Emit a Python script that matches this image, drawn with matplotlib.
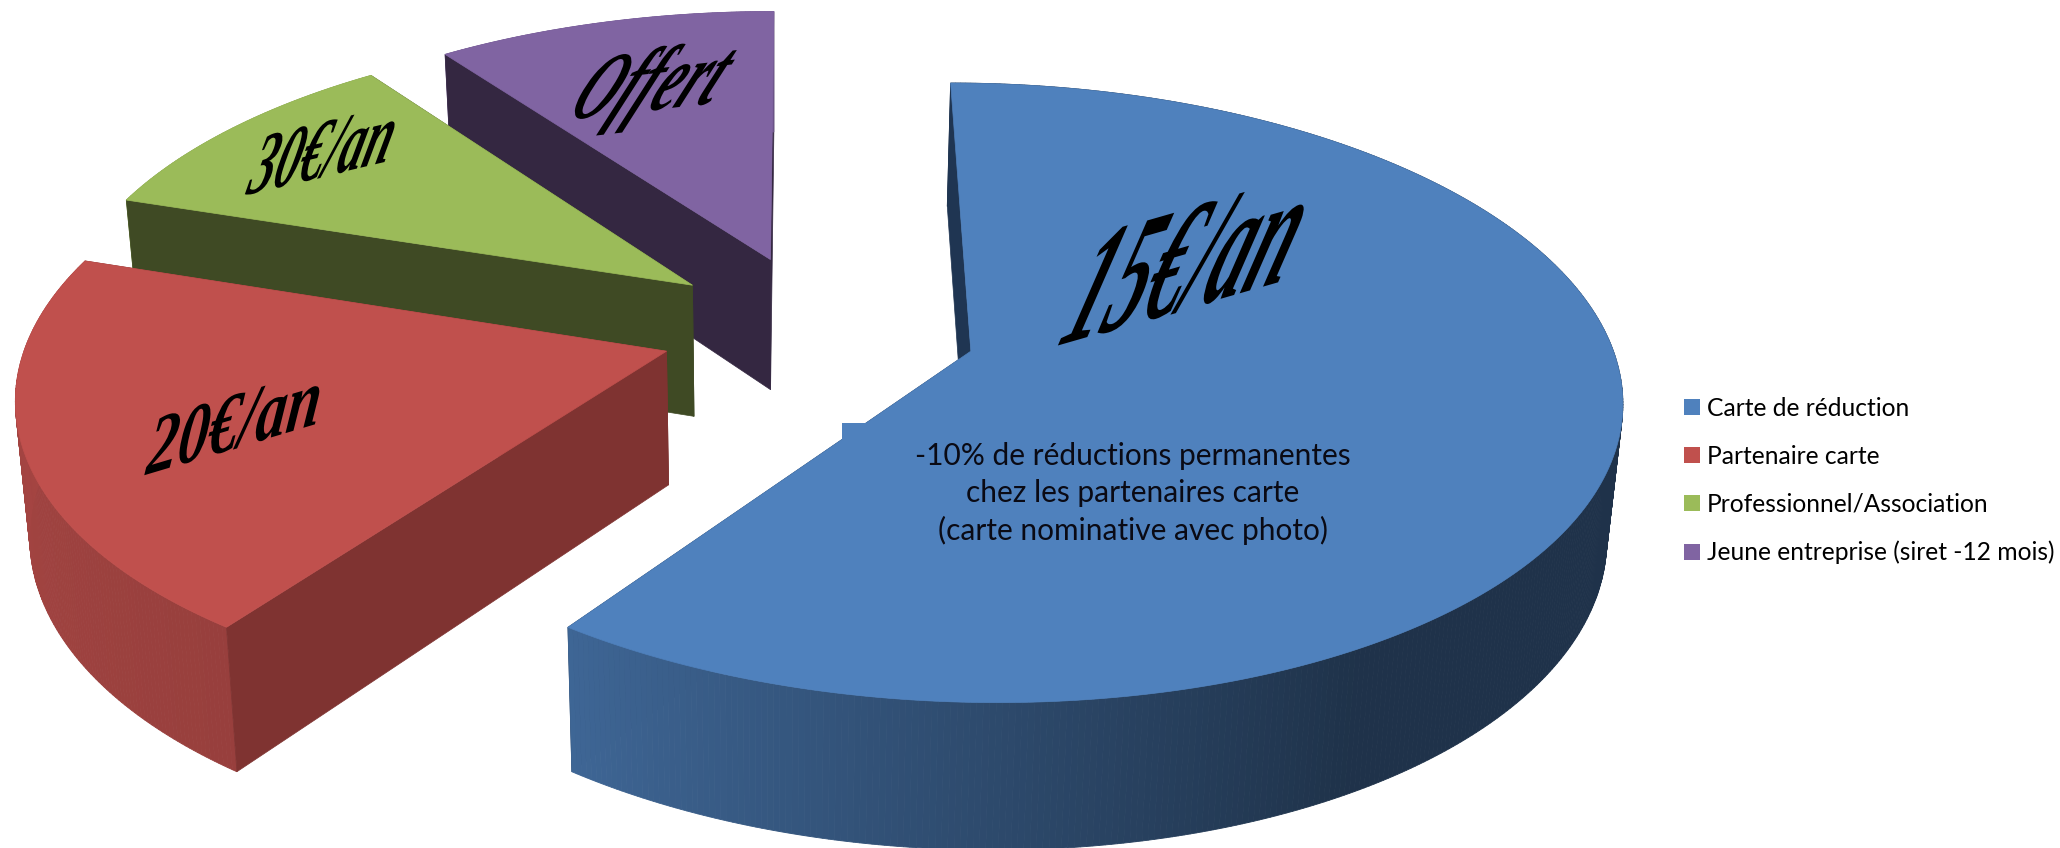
import numpy as np
from matplotlib import pyplot as plt
from matplotlib import patheffects
from matplotlib.colors import to_rgb
from matplotlib.patches import Patch, Polygon, Rectangle
from matplotlib.transforms import Affine2D

categories = ['Carte de réduction', 'Partenaire carte', 'Professionnel/Association',
              'Jeune entreprise (siret -12 mois)']
values = [60, 20, 10, 10]
prices = ['15€/an', '20€/an', '30€/an', 'Offert']
note = '-10% de réductions permanentes\nchez les partenaires carte\n(carte nominative avec photo)'

top_colors = ['#4f81bd', '#c0504d', '#9bbb59', '#8064a2']
wall_colors = ['#1f3552', '#7f3331', '#3f4a24', '#342741']

# camera of the 3d pie, in pixels of the picture
CX, CY = 818.5, 328
RX, RY = 636, 298
PERSP = 0.133
VX = 800
EXPLODE = 0.249
LEAN = 0.019
LEAN_X = 775
DEPTH = 120
DEPTH_GROW = 0.039


class Squeeze(patheffects.AbstractPathEffect):
    """narrow and lean the glyphs along the text direction"""
    def __init__(self, sx, shear):
        super().__init__()
        self.sx = sx
        self.shear = shear

    def draw_path(self, renderer, gc, tpath, affine, rgbFace=None):
        local = Affine2D().scale(self.sx, 1).skew_deg(self.shear, 0)
        renderer.draw_path(gc, tpath, local + affine, rgbFace)


def project(x, y):
    w = 1 + PERSP * y
    sx = VX + (CX - VX + RX * x) / w
    sy = CY - RY / PERSP + (RY / PERSP) / w
    return sx, sy


def drop(sx, sy):
    # near points get a taller wall than far ones
    return sx + LEAN * (LEAN_X - sx), sy + DEPTH + DEPTH_GROW * sy


def rim_shade(angle):
    return np.interp(angle, [0, 150, 216, 270, 360], [0.39, 0.39, 0.79, 0.86, 0.86])


fig = plt.figure(figsize=(20.6, 8.48), dpi=100)
ax = fig.add_axes([0, 0, 1, 1])
ax.set_xlim(0, 2060)
ax.set_ylim(848, 0)
ax.axis('off')

edges = np.cumsum([0] + values) / sum(values) * 360

# back slices first, the blue one last
for i in [3, 2, 1, 0]:
    a0, a1 = edges[i], edges[i + 1]
    mid = np.radians((a0 + a1) / 2)
    ox, oy = EXPLODE * np.sin(mid), EXPLODE * np.cos(mid)
    ang = np.linspace(a0, a1, int(a1 - a0) * 2 + 2)
    rad = np.radians(ang)
    rx, ry = project(ox + np.sin(rad), oy + np.cos(rad))
    bx, by = drop(rx, ry)
    ax0, ay0 = project(ox, oy)
    ax1, ay1 = drop(ax0, ay0)

    # far flat wall, then the rim in strips, then the near flat wall
    quad = [(ax0, ay0), (rx[-1], ry[-1]), (bx[-1], by[-1]), (ax1, ay1)]
    ax.add_patch(Polygon(quad, closed=True, fc=wall_colors[i], ec=wall_colors[i], lw=0.5))

    base = np.array(to_rgb(top_colors[i]))
    for k in range(len(ang) - 1):
        col = base * rim_shade((ang[k] + ang[k + 1]) / 2)
        quad = [(rx[k], ry[k]), (rx[k + 1], ry[k + 1]), (bx[k + 1], by[k + 1]), (bx[k], by[k])]
        ax.add_patch(Polygon(quad, closed=True, fc=col, ec=col, lw=0.6))

    quad = [(ax0, ay0), (rx[0], ry[0]), (bx[0], by[0]), (ax1, ay1)]
    ax.add_patch(Polygon(quad, closed=True, fc=wall_colors[i], ec=wall_colors[i], lw=0.5))

    top = [(ax0, ay0)] + list(zip(rx, ry))
    ax.add_patch(Polygon(top, closed=True, fc=top_colors[i], ec=top_colors[i], lw=0.5))

# text box sitting on the blue slice
ax.add_patch(Rectangle((842, 423), 505, 145, fc='#4f81bd', ec='none'))
ax.text(1133, 493.5, note, ha='center', va='center', fontsize=21.5, family='Lato',
        linespacing=1.38, color='#0a0a14')

# x, y, rotation, size, squeeze, shear
label_pos = [(1056, 346, 16, 105, 0.57, 36), (145, 475, 16.6, 56, 0.82, 24),
             (245, 195, 13.3, 58, 0.64, 29), (565, 120, 6.5, 64, 0.66, 35)]
for txt, (x, y, rot, size, squeeze, shear) in zip(prices, label_pos):
    t = ax.text(x, y, txt, ha='left', va='baseline', rotation=rot, rotation_mode='anchor',
                fontsize=size, family='Liberation Serif', style='italic', weight='bold',
                color='black')
    t.set_path_effects([Squeeze(squeeze, shear)])

handles = [Patch(fc=c, ec='none') for c in top_colors]
ax.legend(handles, categories, loc='center left', bbox_to_anchor=(1684 / 2060, 1 - 480.5 / 848),
          frameon=False, prop={'family': 'Lato', 'size': 17.7}, handlelength=0.65, handleheight=0.65,
          handletextpad=0.28, labelspacing=1.02, borderpad=0, borderaxespad=0)

fig.savefig('out.png', dpi=100, facecolor='white')
